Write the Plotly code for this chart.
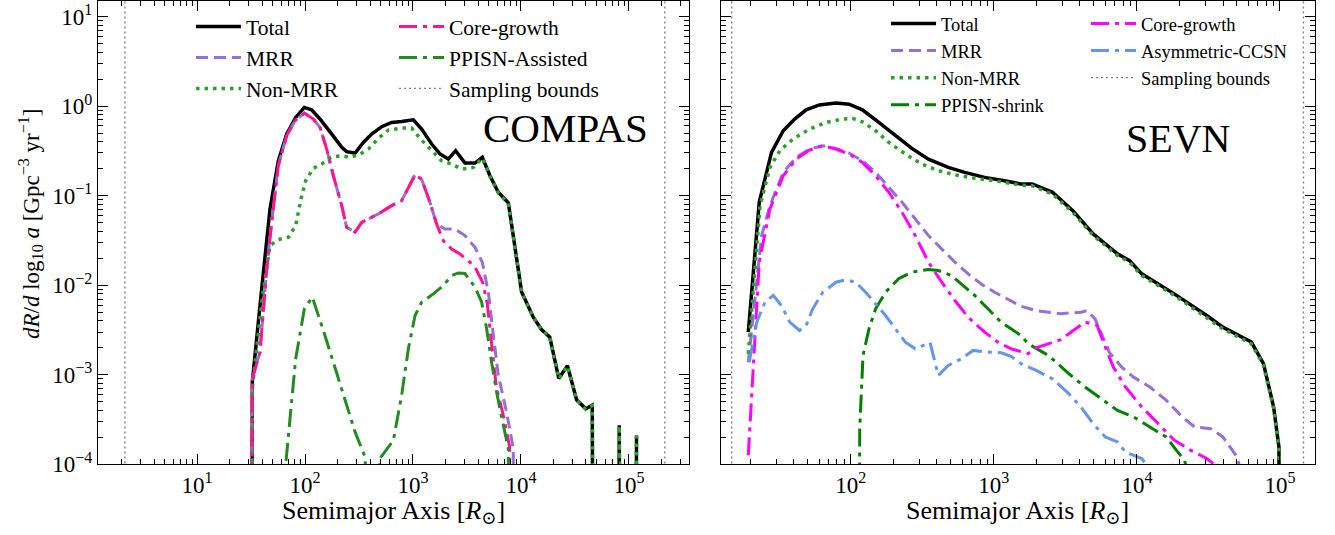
import plotly.graph_objects as go

# ---------------- data ----------------
# COMPAS panel
compas_total_a = [28.8, 32.5, 39.7, 47.4, 56.6, 67.6, 82.0, 98.6, 115, 138, 177, 219, 243, 291, 347, 414, 513, 634,
                  785, 1007, 1202, 1489, 1778, 2123, 2483, 3030, 3750, 4385, 5164, 6166, 7636, 10140, 13000, 15490,
                  18490, 22390, 26920, 32730, 39810, 45710, 55590, 67610, 81280, 97720, 117500]
compas_total_y = [0, 8.3e-4, 9.1e-3, 0.071, 0.245, 0.487, 0.747, 0.966, 0.91, 0.716, 0.487, 0.346, 0.31, 0.299,
                  0.393, 0.487, 0.589, 0.657, 0.675, 0.704, 0.554, 0.377, 0.292, 0.256, 0.318, 0.231, 0.231, 0.268,
                  0.167, 0.109, 0.083, 8.4e-3, 4.4e-3, 3.2e-3, 2.63e-3, 9.1e-4, 1.26e-3, 5.25e-4, 4.17e-4, 4.57e-4,
                  0, 0, 2.73e-4, 0, 2.1e-4]

compas_nonmrr_a = [27.8, 32.5, 39.7, 47.4, 56.6, 70.2, 82.0, 91.8, 101.4, 119.4, 142.6, 174, 218.6, 261, 312, 386,
                   477, 591, 785, 972, 1161, 1436, 1841, 2280, 2825, 3622, 4385, 5164, 6166, 7636, 10140, 13000,
                   15490, 18490, 22390, 26920, 32730, 39810, 45710, 55590, 67610, 81280, 97720, 117500]
compas_nonmrr_y = [0, 7.0e-4, 6.5e-3, 0.0277, 0.0323, 0.0343, 0.0463, 0.0918, 0.147, 0.202, 0.225, 0.268, 0.279,
                   0.268, 0.284, 0.331, 0.436, 0.54, 0.569, 0.569, 0.436, 0.331, 0.245, 0.225, 0.198, 0.207, 0.263,
                   0.165, 0.107, 0.082, 8.3e-3, 4.35e-3, 3.2e-3, 2.6e-3, 9.0e-4, 1.25e-3, 5.2e-4, 4.1e-4, 4.5e-4,
                   0, 0, 2.7e-4, 0, 2.1e-4]

compas_mrr_a = [28.8, 32.5, 38.3, 44.2, 49.1, 56.6, 67.6, 80.8, 98.6, 119.4, 137.7, 158.7, 183, 218.6, 243, 290.6,
                335, 477, 634, 785, 1045, 1202, 1436, 1655, 1977, 2449, 3030, 3750, 4385, 4990, 5550, 6166, 7360,
                8490, 9770]
compas_mrr_y = [0, 9.0e-4, 1.79e-3, 0.0152, 0.0504, 0.216, 0.467, 0.686, 0.836, 0.716, 0.578, 0.331, 0.167, 0.0774,
                0.0443, 0.039, 0.0504, 0.0625, 0.0774, 0.088, 0.171, 0.153, 0.0843, 0.0483, 0.0425, 0.0425, 0.0358,
                0.0265, 0.018, 8.3e-3, 2.75e-3, 9.8e-4, 3.8e-4, 1.49e-4, 0]

compas_core_a = [28.8, 32.5, 38.3, 44.2, 49.1, 56.6, 67.6, 80.8, 98.6, 119.4, 137.7, 158.7, 183, 218.6, 243, 290.6,
                 335, 477, 634, 785, 1045, 1202, 1436, 1655, 1908, 2280, 2723, 3252, 3750, 4416, 4875, 5346, 5910,
                 6810, 7850, 9120]
compas_core_y = [0, 9.0e-4, 1.79e-3, 0.0152, 0.0504, 0.216, 0.467, 0.686, 0.836, 0.716, 0.578, 0.331, 0.167, 0.0774,
                 0.0443, 0.039, 0.0504, 0.0625, 0.0774, 0.088, 0.171, 0.153, 0.0843, 0.0483, 0.0315, 0.0254, 0.0223,
                 0.0188, 0.0159, 0.0108, 6.2e-3, 2.22e-3, 7.3e-4, 3.67e-4, 1.56e-4, 0]

compas_ppisn_a = [58.2, 82.0, 98.6, 116.9, 153, 218.6, 290.6, 359.6, 420, 494, 658, 785, 906, 1045, 1202, 1542,
                  1908, 2280, 2630, 3030, 3750, 4325, 4810, 5346, 5950, 6620, 7636, 9000]
compas_ppisn_y = [1.92e-5, 1.51e-3, 5.45e-3, 7.35e-3, 2.75e-3, 6.98e-4, 2.3e-4, 1.21e-4, 6e-7, 1.16e-4, 1.85e-4,
                  5.9e-4, 1.95e-3, 4.59e-3, 6.46e-3, 8.0e-3, 9.9e-3, 0.0128, 0.0137, 0.0135, 9.5e-3, 6.46e-3,
                  3.26e-3, 1.38e-3, 6.4e-4, 3.37e-4, 1.5e-4, 0]

compas_bounds = [2.15, 2.15e5]

# SEVN panel
sevn_total_a = [19.2, 22.9, 27.9, 33.7, 40.5, 48.7, 60.3, 78.7, 97.3, 120.5, 157, 205, 267, 349, 480, 626, 862,
                1186, 1546, 1854, 2570, 3565, 4943, 7310, 8890, 10810, 18240, 30760, 39900, 63100, 76700, 90300,
                98400, 112000]
sevn_total_y = [2.99e-3, 0.0843, 0.304, 0.531, 0.716, 0.91, 1.03, 1.08, 1.05, 0.91, 0.657, 0.467, 0.337, 0.256,
                0.207, 0.182, 0.16, 0.147, 0.135, 0.135, 0.109, 0.068, 0.0374, 0.0224, 0.0188, 0.0134, 8.0e-3,
                4.59e-3, 3.4e-3, 2.32e-3, 1.33e-3, 4.37e-4, 1.56e-4, 0]

sevn_nonmrr_a = [19.2, 21.4, 23.2, 27.2, 31.9, 39.4, 51.4, 67.1, 87.5, 102.7, 120.5, 149, 184.5, 240.5, 314, 409,
                 534, 734, 1012, 1546, 1854, 2570, 3565, 4943, 7310, 8890, 10810, 18240, 30760, 39900, 63100,
                 76700, 90300, 98400, 112000]
sevn_nonmrr_y = [1.71e-3, 0.0181, 0.0774, 0.207, 0.318, 0.428, 0.554, 0.657, 0.716, 0.728, 0.669, 0.531, 0.393,
                 0.292, 0.225, 0.19, 0.171, 0.156, 0.147, 0.131, 0.129, 0.104, 0.065, 0.036, 0.0215, 0.018, 0.0128,
                 7.7e-3, 4.4e-3, 3.25e-3, 2.22e-3, 1.28e-3, 4.2e-4, 1.5e-4, 0]

sevn_mrr_a = [19.2, 23.8, 27.2, 33.7, 41.6, 51.4, 63.7, 78.7, 97.3, 120.5, 149, 184.5, 228, 282, 349, 432, 534, 661,
              816, 1012, 1250, 1546, 1977, 2929, 4060, 4477, 5100, 5630, 6410, 7800, 9480, 12330, 16000, 20800,
              25300, 32800, 39900, 50100, 60300]
sevn_mrr_y = [1.38e-3, 0.0358, 0.0774, 0.182, 0.268, 0.331, 0.361, 0.337, 0.299, 0.245, 0.182, 0.124, 0.0843,
              0.055, 0.0358, 0.0254, 0.0181, 0.0134, 0.0103, 8.35e-3, 6.92e-3, 5.83e-3, 5.2e-3, 4.8e-3, 5.0e-3,
              5.2e-3, 4.2e-3, 2.87e-3, 1.79e-3, 1.22e-3, 9.4e-4, 7.3e-4, 5.2e-4, 3.38e-4, 2.61e-4, 2.5e-4,
              2.02e-4, 1.21e-4, 4e-5]

sevn_ppisn_a = [105, 115.4, 121.7, 134, 149, 174.8, 216, 267, 349, 409, 506, 594, 734, 908, 1124, 1318, 1546, 1738,
                2410, 3337, 4335, 5630, 7310, 9480, 12330, 16000, 18840, 21460, 25100]
sevn_ppisn_y = [0, 2.5e-4, 1.64e-3, 3.26e-3, 5.45e-3, 8.35e-3, 0.0118, 0.014, 0.015, 0.0146, 0.0128, 0.0103,
                7.7e-3, 5.45e-3, 3.87e-3, 3.26e-3, 2.75e-3, 2.22e-3, 1.64e-3, 1.03e-3, 7.3e-4, 5.4e-4, 4.0e-4,
                3.38e-4, 2.61e-4, 2.02e-4, 1.44e-4, 1.11e-4, 5e-5]

sevn_core_a = [19.2, 22.9, 27.2, 33.7, 41.6, 51.4, 63.7, 78.7, 97.3, 120.5, 149, 184.5, 228, 282, 349, 432, 534, 661,
               862, 1067, 1318, 1738, 1977, 2929, 4335, 5272, 6010, 6840, 8320, 10810, 14050, 18240, 23690, 30760,
               41700]
sevn_core_y = [1.26e-4, 0.0181, 0.071, 0.167, 0.256, 0.323, 0.361, 0.331, 0.292, 0.235, 0.167, 0.109, 0.0652,
               0.0358, 0.0181, 0.0108, 6.75e-3, 4.4e-3, 2.99e-3, 2.31e-3, 1.95e-3, 1.72e-3, 2.0e-3, 2.46e-3,
               3.87e-3, 3.56e-3, 2.04e-3, 1.22e-3, 7.3e-4, 4.37e-4, 2.85e-4, 1.86e-4, 1.44e-4, 1.16e-4, 8e-5]

sevn_ccsn_a = [19.5, 22.0, 25.1, 28.7, 32.7, 37.4, 43.8, 48.7, 54.2, 63.7, 78.7, 92.3, 108.3, 127, 149, 174.8, 205,
               240.5, 282, 340, 358, 409, 480, 594, 715, 908, 1124, 1318, 1546, 1977, 2570, 3337, 4060, 4943, 6010,
               7310, 8320, 9480, 10810, 15800]
sevn_ccsn_y = [1.38e-3, 3.87e-3, 6.46e-3, 7.7e-3, 5.93e-3, 3.87e-3, 3.12e-3, 3.55e-3, 5.45e-3, 8.35e-3, 0.0108,
               0.0115, 0.0108, 8.35e-3, 6.19e-3, 4.59e-3, 3.26e-3, 2.31e-3, 1.95e-3, 2.22e-3, 2.28e-3, 9.8e-4,
               1.27e-3, 1.51e-3, 1.87e-3, 1.79e-3, 1.76e-3, 1.61e-3, 1.33e-3, 1.12e-3, 9.0e-4, 6.15e-4, 4.37e-4,
               2.85e-4, 2.02e-4, 1.78e-4, 1.37e-4, 1.26e-4, 1.16e-4, 5e-5]

sevn_bounds = [14.7, 1.46e5]

# tick labels
y_tickvals = [1e-4, 1e-3, 1e-2, 1e-1, 1, 10]
y_ticktext = ["10<sup>−4</sup>", "10<sup>−3</sup>", "10<sup>−2</sup>", "10<sup>−1</sup>", "10<sup>0</sup>",
              "10<sup>1</sup>"]
x_tickvals = [10, 100, 1e3, 1e4, 1e5]
x_ticktext = ["10<sup>1</sup>", "10<sup>2</sup>", "10<sup>3</sup>", "10<sup>4</sup>", "10<sup>5</sup>"]

# ---------------- figure ----------------
W, H = 1335, 535
FONT = "Liberation Serif, DejaVu Serif, serif"


def logsafe(vals):
    # zero bins are sent far below the axis (like matplotlib's clipping of non-positive values)
    return [v if v > 0 else 1e-30 for v in vals]


def bounds_xy(b):
    return [b[0], b[0], None, b[1], b[1]], [1e-6, 1e3, None, 1e-6, 1e3]


DASH = "12px,6px"
DOT = "3.5px,5px"
DASHDOT = "18px,6px,4px,6px"

fig = go.Figure()


def add(xs, ys, name, color, width, dash, xa, ya, legend):
    fig.add_trace(go.Scatter(x=xs, y=logsafe(ys), name=name, mode="lines",
                             line=dict(color=color, width=width, dash=dash),
                             xaxis=xa, yaxis=ya, legend=legend, showlegend=True))


# COMPAS
add(compas_total_a, compas_total_y, "Total", "black", 3.5, "solid", "x", "y", "legend")
add(compas_mrr_a, compas_mrr_y, "MRR", "#9370DB", 3, DASH, "x", "y", "legend")
add(compas_nonmrr_a, compas_nonmrr_y, "Non-MRR", "#2ca02c", 3.5, DOT, "x", "y", "legend")
add(compas_core_a, compas_core_y, "Core-growth", "#FF1493", 3, DASHDOT, "x", "y", "legend2")
add(compas_ppisn_a, compas_ppisn_y, "PPISN-Assisted", "#228B22", 3, DASHDOT, "x", "y", "legend2")
bx, by = bounds_xy(compas_bounds)
fig.add_trace(go.Scatter(x=bx, y=by, name="Sampling bounds", mode="lines",
                         line=dict(color="grey", width=1.4, dash="2px,3px"),
                         xaxis="x", yaxis="y", legend="legend2"))

# SEVN
add(sevn_total_a, sevn_total_y, "Total", "black", 3.5, "solid", "x2", "y2", "legend3")
add(sevn_mrr_a, sevn_mrr_y, "MRR", "#9370DB", 3, DASH, "x2", "y2", "legend3")
add(sevn_nonmrr_a, sevn_nonmrr_y, "Non-MRR", "#2ca02c", 3.5, DOT, "x2", "y2", "legend3")
add(sevn_ppisn_a, sevn_ppisn_y, "PPISN-shrink", "#008000", 3, DASHDOT, "x2", "y2", "legend3")
add(sevn_core_a, sevn_core_y, "Core-growth", "#FF00FF", 3, DASHDOT, "x2", "y2", "legend4")
add(sevn_ccsn_a, sevn_ccsn_y, "Asymmetric-CCSN", "#6495ED", 3, DASHDOT, "x2", "y2", "legend4")
bx, by = bounds_xy(sevn_bounds)
fig.add_trace(go.Scatter(x=bx, y=by, name="Sampling bounds", mode="lines",
                         line=dict(color="grey", width=1.4, dash="2px,3px"),
                         xaxis="x2", yaxis="y2", legend="legend4"))

minor_x = [m * 10 ** e for e in range(0, 6) for m in range(2, 10)]
minor_y = [m * 10.0 ** e for e in range(-4, 2) for m in range(2, 10)]

common = dict(type="log", showline=True, linecolor="black", linewidth=1.2, mirror="ticks",
              ticks="inside", ticklen=10, tickwidth=1.2, tickcolor="black", showgrid=False, zeroline=False,
              tickfont=dict(family=FONT, size=23, color="black"), automargin=False)

ydom = [1 - 464.3 / H, 1 - 0.8 / H]
minor_style = dict(ticks="inside", ticklen=5, tickwidth=1, tickcolor="black", tickmode="array", showgrid=False)

fig.update_layout(
    width=W, height=H, margin=dict(l=0, r=0, t=0, b=0),
    paper_bgcolor="white", plot_bgcolor="white",
    font=dict(family=FONT, color="black"),
    xaxis=dict(domain=[98 / W, 689 / W], range=[0.083, 5.556], tickmode="array", tickvals=x_tickvals,
               ticktext=x_ticktext, anchor="y", minor=dict(tickvals=minor_x, **minor_style), **common),
    yaxis=dict(domain=ydom, range=[-4, 1.176], tickmode="array", tickvals=y_tickvals, ticktext=y_ticktext,
               anchor="x", minor=dict(tickvals=minor_y, **minor_style), **common),
    xaxis2=dict(domain=[720.5 / W, 1315 / W], range=[1.089, 5.245], tickmode="array", tickvals=x_tickvals,
                ticktext=x_ticktext, anchor="y2", minor=dict(tickvals=minor_x, **minor_style), **common),
    yaxis2=dict(domain=ydom, range=[-4, 1.176], tickmode="array", tickvals=y_tickvals, ticktext=y_ticktext,
                anchor="x2", showticklabels=False, minor=dict(tickvals=minor_y, **minor_style), **common),
    legend=dict(x=191 / W, y=1 - 6 / H, xanchor="left", yanchor="top", bgcolor="rgba(0,0,0,0)",
                font=dict(family=FONT, size=21.5), itemwidth=45, tracegroupgap=0),
    legend2=dict(x=394 / W, y=1 - 6 / H, xanchor="left", yanchor="top", bgcolor="rgba(0,0,0,0)",
                 font=dict(family=FONT, size=21.5), itemwidth=45, tracegroupgap=0),
    legend3=dict(x=886 / W, y=1 - 5 / H, xanchor="left", yanchor="top", bgcolor="rgba(0,0,0,0)",
                 font=dict(family=FONT, size=18.5), itemwidth=45, tracegroupgap=0),
    legend4=dict(x=1086 / W, y=1 - 5 / H, xanchor="left", yanchor="top", bgcolor="rgba(0,0,0,0)",
                 font=dict(family=FONT, size=18.5), itemwidth=45, tracegroupgap=0),
)

xtitle = "Semimajor Axis [<i>R</i><sub>⊙</sub>]"
fig.add_annotation(x=393.5 / W, y=1 - 512 / H, xref="paper", yref="paper", text=xtitle, showarrow=False,
                   font=dict(family=FONT, size=26), xanchor="center", yanchor="middle")
fig.add_annotation(x=1017.5 / W, y=1 - 512 / H, xref="paper", yref="paper", text=xtitle, showarrow=False,
                   font=dict(family=FONT, size=26), xanchor="center", yanchor="middle")
fig.add_annotation(x=30 / W, y=1 - 224 / H, xref="paper", yref="paper", textangle=-90,
                   text="<i>dR</i>/<i>d</i> log<sub>10</sub> <i>a</i> [Gpc<sup>−3</sup> yr<sup>−1</sup>]",
                   showarrow=False, font=dict(family=FONT, size=23), xanchor="center", yanchor="middle")
fig.add_annotation(x=565 / W, y=1 - 128 / H, xref="paper", yref="paper", text="COMPAS", showarrow=False,
                   font=dict(family=FONT, size=41), xanchor="center", yanchor="middle")
fig.add_annotation(x=1178 / W, y=1 - 138 / H, xref="paper", yref="paper", text="SEVN", showarrow=False,
                   font=dict(family=FONT, size=40), xanchor="center", yanchor="middle")

fig.write_html("out.html")
